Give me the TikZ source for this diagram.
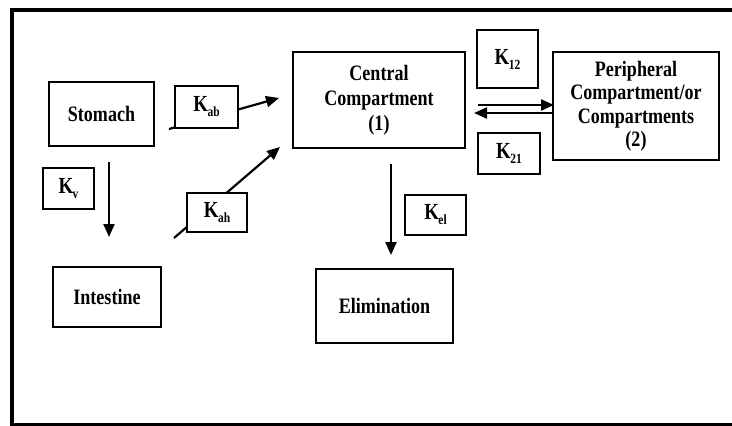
\documentclass[tikz,border=0pt]{standalone}
\usepackage{fontspec}
\setmainfont{Liberation Serif}[FakeStretch=0.82]
\usetikzlibrary{arrows.meta}
\newcommand{\ksub}[1]{K\kern-0.5pt\raisebox{-5pt}{\fontsize{14}{14}\selectfont #1}}
\begin{document}
\begin{tikzpicture}[x=1pt,y=-1pt,
  box/.style={draw, line width=2pt, fill=white, inner sep=0pt, align=center,
    font=\bfseries\fontsize{22}{25}\selectfont},
  kbox/.style={box, font=\bfseries\fontsize{23}{25}\selectfont},
  arr/.style={line width=2.2pt, -{Triangle[length=13pt,width=11pt]}}]
\useasboundingbox (0,0) rectangle (732,426);
\fill[white] (0,0) rectangle (732,426);
% frame
\draw[line width=3.5pt] (12,426) -- (12,10) -- (732,10);
\draw[line width=2.5pt] (12,424.5) -- (732,424.5);
% free arrow ends
\coordinate (kabS) at (169,129);
\coordinate (kabE) at (279,98);
\coordinate (kahS) at (174,238);
\coordinate (kahE) at (280,147);
\coordinate (kvS) at (109,162);
\coordinate (kvE) at (109,237);
\coordinate (kelS) at (391,164);
\coordinate (kelE) at (391,255);
\coordinate (upS) at (478,105);
\coordinate (upE) at (554,105);
\coordinate (loS) at (553,113);
\coordinate (loE) at (474,113);
% arrows
\draw[arr] (kabS) -- (kabE);
\draw[arr] (kahS) -- (kahE);
\draw[arr] (kvS) -- (kvE);
\draw[arr] (kelS) -- (kelE);
\draw[arr] (upS) -- (upE);
\draw[arr] (loS) -- (loE);
% boxes
\node[box, minimum width=105pt, minimum height=64pt] (stomach) at (101.5,114) {Stomach};
\node[kbox, minimum width=63pt, minimum height=42pt] (kab) at (206.5,107) {\ksub{ab}};
\node[box, minimum width=172pt, minimum height=96pt] (central) at (379,100) {Central\\Compartment\\(1)};
\node[kbox, minimum width=61pt, minimum height=58pt] (k12) at (507.5,59) {\ksub{12}};
\node[kbox, minimum width=62pt, minimum height=41pt] (k21) at (509,153.5) {\ksub{21}};
\node[box, minimum width=166pt, minimum height=108pt, font=\bfseries\fontsize{22}{23.5}\selectfont] (periph) at (636,106) {Peripheral\\Compartment/or\\Compartments\\(2)};
\node[kbox, minimum width=51pt, minimum height=41pt] (kv) at (68.5,188.5) {\ksub{v}};
\node[kbox, minimum width=60pt, minimum height=39pt] (kah) at (217,212.5) {\ksub{ah}};
\node[box, minimum width=108pt, minimum height=60pt] (intestine) at (107,297) {Intestine};
\node[kbox, minimum width=61pt, minimum height=40pt] (kel) at (435.5,215) {\ksub{el}};
\node[box, minimum width=137pt, minimum height=74pt] (elim) at (384.5,306) {Elimination};
\end{tikzpicture}
\end{document}
